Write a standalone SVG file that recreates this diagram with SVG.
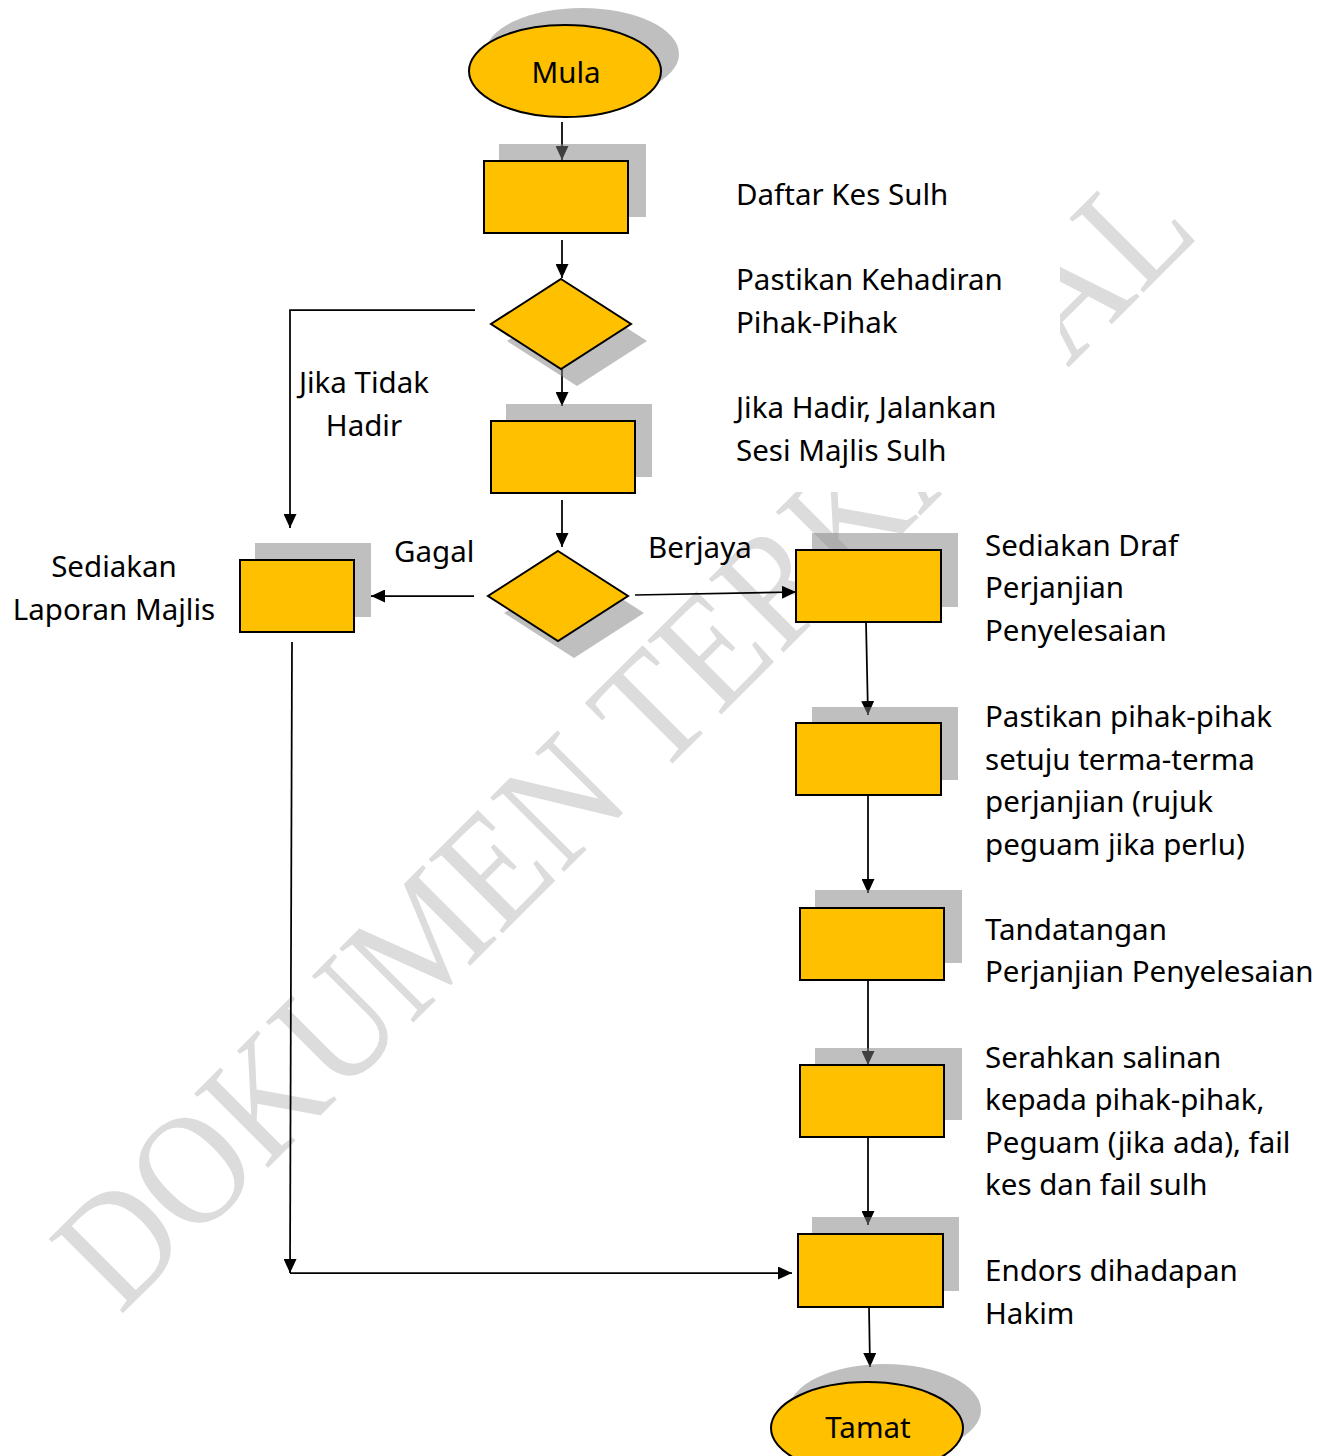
<svg xmlns="http://www.w3.org/2000/svg" width="1330" height="1456" viewBox="0 0 1330 1456">
  <style>
    .shape { fill: #FFC000; stroke: #000; stroke-width: 2; }
    .shadow { fill: #808080; fill-opacity: 0.5; }
    .lbl { font-family: "Noto Sans", "Open Sans", "Liberation Sans", sans-serif; font-size: 29.5px; fill: #000; }
    .mid { text-anchor: middle; }
    .conn { fill: none; stroke: #000; stroke-width: 1.75; }
    .wm { font-family: "Liberation Serif", "DejaVu Serif", serif; font-size: 160px; fill: #dcdcdc; }
  </style>
  <defs>
    <marker id="arr" viewBox="0 0 14 13" refX="14" refY="6.5" markerWidth="14" markerHeight="13" markerUnits="userSpaceOnUse" orient="auto">
      <path d="M0,0 L14,6.5 L0,13 z" fill="#000"/>
    </marker>
  </defs>
  <rect width="1330" height="1456" fill="#fff"/>

  <g id="watermark">
    <text class="wm" transform="translate(120,1316) rotate(-45)" x="0" y="0" textLength="1530" lengthAdjust="spacingAndGlyphs">DOKUMEN TERKAWAL</text>
    <rect x="725" y="240" width="335" height="252" fill="#fff"/>
  </g>

  <g id="connectors">
    <line class="conn" x1="562" y1="122" x2="562" y2="160" marker-end="url(#arr)"/>
    <line class="conn" x1="562" y1="240" x2="562" y2="278" marker-end="url(#arr)"/>
    <line class="conn" x1="562" y1="369" x2="562" y2="406" marker-end="url(#arr)"/>
    <polyline class="conn" points="475,310 290,310 290,528" marker-end="url(#arr)"/>
    <line class="conn" x1="562" y1="500" x2="562" y2="547" marker-end="url(#arr)"/>
    <line class="conn" x1="474" y1="596" x2="371" y2="596" marker-end="url(#arr)"/>
    <line class="conn" x1="635" y1="595" x2="796" y2="592" marker-end="url(#arr)"/>
    <line class="conn" x1="866" y1="622" x2="868" y2="715" marker-end="url(#arr)"/>
    <line class="conn" x1="868" y1="795" x2="868" y2="893" marker-end="url(#arr)"/>
    <line class="conn" x1="868" y1="980" x2="868" y2="1065" marker-end="url(#arr)"/>
    <line class="conn" x1="868" y1="1137" x2="868" y2="1225" marker-end="url(#arr)"/>
    <line class="conn" x1="869" y1="1307" x2="870" y2="1367" marker-end="url(#arr)"/>
    <line class="conn" x1="292" y1="642" x2="290" y2="1273" marker-end="url(#arr)"/>
    <line class="conn" x1="290" y1="1273" x2="792" y2="1273" marker-end="url(#arr)"/>
  </g>

  <g id="mula">
    <ellipse class="shadow" cx="582" cy="54" rx="97" ry="46"/>
    <ellipse class="shape" cx="565" cy="71" rx="96" ry="46"/>
    <text class="lbl mid" x="566" y="83">Mula</text>
  </g>

  <g id="daftar">
    <rect class="shadow" x="499" y="144" width="147" height="73"/>
    <rect class="shape" x="484" y="161" width="144" height="72"/>
    <text class="lbl" x="736" y="205">Daftar Kes Sulh</text>
  </g>

  <g id="pastikan-kehadiran">
    <polygon class="shadow" points="577,296 647,341 577,386 507,341"/>
    <polygon class="shape" points="561,279 631,324 561,369 491,324"/>
    <text class="lbl" x="736" y="290">Pastikan Kehadiran</text>
    <text class="lbl" x="736" y="333">Pihak-Pihak</text>
    <text class="lbl mid" x="364" y="393">Jika Tidak</text>
    <text class="lbl mid" x="364" y="436">Hadir</text>
  </g>

  <g id="jalankan-sesi">
    <rect class="shadow" x="506" y="404" width="146" height="73"/>
    <rect class="shape" x="491" y="421" width="144" height="72"/>
    <text class="lbl" x="736" y="418">Jika Hadir, Jalankan</text>
    <text class="lbl" x="736" y="461">Sesi Majlis Sulh</text>
  </g>

  <g id="keputusan">
    <polygon class="shadow" points="574,568 644,613 574,658 504,613"/>
    <polygon class="shape" points="558,551 628,596 558,641 488,596"/>
    <text class="lbl" x="394" y="562">Gagal</text>
    <text class="lbl" x="648" y="558">Berjaya</text>
  </g>

  <g id="laporan">
    <rect class="shadow" x="255" y="543" width="116" height="74"/>
    <rect class="shape" x="240" y="560" width="114" height="72"/>
    <text class="lbl mid" x="114" y="577">Sediakan</text>
    <text class="lbl mid" x="114" y="620">Laporan Majlis</text>
  </g>

  <g id="draf">
    <rect class="shadow" x="812" y="533" width="146" height="74"/>
    <rect class="shape" x="796" y="550" width="145" height="72"/>
    <text class="lbl" x="985" y="556">Sediakan Draf</text>
    <text class="lbl" x="985" y="598">Perjanjian</text>
    <text class="lbl" x="985" y="641">Penyelesaian</text>
  </g>

  <g id="setuju">
    <rect class="shadow" x="812" y="707" width="146" height="73"/>
    <rect class="shape" x="796" y="723" width="145" height="72"/>
    <text class="lbl" x="985" y="727">Pastikan pihak-pihak</text>
    <text class="lbl" x="985" y="770">setuju terma-terma</text>
    <text class="lbl" x="985" y="812">perjanjian (rujuk</text>
    <text class="lbl" x="985" y="855">peguam jika perlu)</text>
  </g>

  <g id="tandatangan">
    <rect class="shadow" x="815" y="890" width="147" height="73"/>
    <rect class="shape" x="800" y="908" width="144" height="72"/>
    <text class="lbl" x="985" y="940">Tandatangan</text>
    <text class="lbl" x="985" y="982">Perjanjian Penyelesaian</text>
  </g>

  <g id="serahkan">
    <rect class="shadow" x="815" y="1048" width="147" height="72"/>
    <rect class="shape" x="800" y="1065" width="144" height="72"/>
    <text class="lbl" x="985" y="1068">Serahkan salinan</text>
    <text class="lbl" x="985" y="1110">kepada pihak-pihak,</text>
    <text class="lbl" x="985" y="1153">Peguam (jika ada), fail</text>
    <text class="lbl" x="985" y="1195">kes dan fail sulh</text>
  </g>

  <g id="endors">
    <rect class="shadow" x="812" y="1217" width="147" height="74"/>
    <rect class="shape" x="798" y="1234" width="145" height="73"/>
    <text class="lbl" x="985" y="1281">Endors dihadapan</text>
    <text class="lbl" x="985" y="1324">Hakim</text>
  </g>

  <g id="tamat">
    <ellipse class="shadow" cx="885" cy="1410" rx="96" ry="46"/>
    <ellipse class="shape" cx="867" cy="1428" rx="96" ry="46"/>
    <text class="lbl mid" x="868" y="1438">Tamat</text>
  </g>
</svg>
